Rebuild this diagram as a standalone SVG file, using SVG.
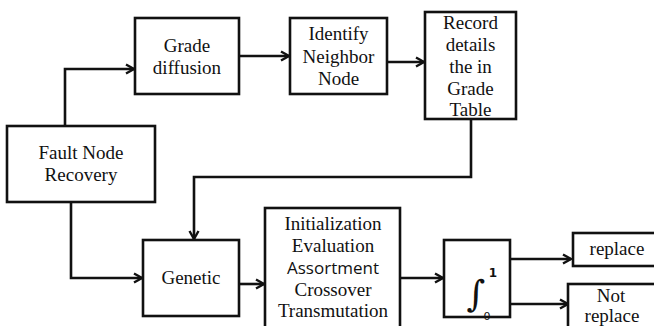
<svg xmlns="http://www.w3.org/2000/svg" width="654" height="326" viewBox="0 0 654 326">
<defs>
<marker id="ah" viewBox="0 0 12 12" refX="10" refY="6" markerWidth="12" markerHeight="12" markerUnits="userSpaceOnUse" orient="auto">
<path d="M2,1.5 L10,6 L2,10.5" fill="none" stroke="#111" stroke-width="2.4"/>
</marker>
<style>
.box{fill:#fff;stroke:#111;stroke-width:2.6}
.t{font-family:"Liberation Serif","Times New Roman",serif;font-size:19px;fill:#111;text-anchor:middle}
.s{font-family:"Open Sans","Liberation Sans",Arial,sans-serif;font-size:17px;fill:#111;text-anchor:middle}
.c{fill:none;stroke:#111;stroke-width:2.6;marker-end:url(#ah)}
</style>
</defs>
<rect width="654" height="326" fill="#fff"/>
<g id="connectors">
<path class="c" d="M65,126 V69 H134"/>
<path class="c" d="M239,56 H289"/>
<path class="c" d="M387,62 H424"/>
<path class="c" d="M471,119 V177 H194 V239"/>
<path class="c" d="M71,202 V278 H142"/>
<path class="c" d="M239,284 H264"/>
<path class="c" d="M400,278 H443"/>
<path class="c" d="M510,259 H571"/>
<path class="c" d="M510,304 H568"/>
</g>
<g id="fault">
<rect class="box" x="7" y="126" width="148" height="76"/>
<text class="t" x="81" y="159">Fault Node</text>
<text class="t" x="81" y="181">Recovery</text>
</g>
<g id="grade">
<rect class="box" x="135" y="18" width="104" height="76"/>
<text class="t" x="187" y="52">Grade</text>
<text class="t" x="187" y="74">diffusion</text>
</g>
<g id="identify">
<rect class="box" x="290" y="18" width="97" height="76"/>
<text class="t" x="338.5" y="40">Identify</text>
<text class="t" x="338.5" y="63">Neighbor</text>
<text class="t" x="338.5" y="85">Node</text>
</g>
<g id="record">
<rect class="box" x="425" y="12" width="91" height="107"/>
<text class="t" x="470.5" y="29">Record</text>
<text class="t" x="470.5" y="51">details</text>
<text class="t" x="470.5" y="73">the in</text>
<text class="t" x="470.5" y="95">Grade</text>
<text class="t" x="470.5" y="116">Table</text>
</g>
<g id="genetic">
<rect class="box" x="143" y="240" width="96" height="76"/>
<text class="t" x="191" y="284">Genetic</text>
</g>
<g id="ops">
<rect class="box" x="265" y="208" width="135" height="130"/>
<text class="t" x="333" y="230">Initialization</text>
<text class="t" x="333" y="252">Evaluation</text>
<text class="s" x="333" y="274">Assortment</text>
<text class="t" x="333" y="296">Crossover</text>
<text class="t" x="333" y="317">Transmutation</text>
</g>
<g id="integral">
<rect class="box" x="444" y="240" width="66" height="77"/>
<text x="476" y="306" font-family="'DejaVu Serif',serif" font-size="36" fill="#111" text-anchor="middle">∫</text>
<text x="493" y="277" font-family="'DejaVu Sans',sans-serif" font-size="12" font-weight="bold" fill="#111" text-anchor="middle">1</text>
<text x="487" y="320" font-family="'DejaVu Sans',sans-serif" font-size="11" fill="#111" text-anchor="middle">0</text>
</g>
<g id="replace">
<rect class="box" x="573" y="233" width="90" height="33"/>
<text class="t" x="617" y="255">replace</text>
</g>
<g id="notreplace">
<rect class="box" x="568" y="284" width="92" height="50"/>
<text class="t" x="611" y="302">Not</text>
<text class="t" x="612" y="322">replace</text>
</g>
</svg>
